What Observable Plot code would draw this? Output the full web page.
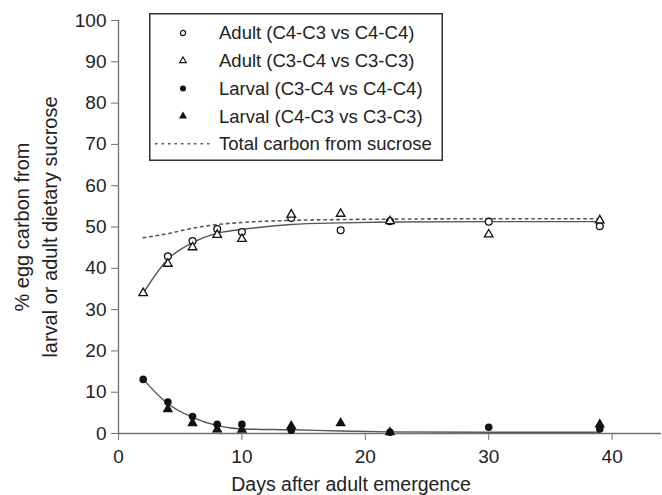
<!DOCTYPE html>
<html>
<head>
<meta charset="utf-8">
<script src="https://cdn.jsdelivr.net/npm/d3@7"></script>
<script src="https://cdn.jsdelivr.net/npm/@observablehq/plot@0.6"></script>
<style>
  body { margin: 0; background: #fff; }
  #wrap { position: relative; width: 662px; height: 495px; font-family: "Liberation Sans", Arial, sans-serif; }
  #legend { position: absolute; left: 149px; top: 13px; }
</style>
</head>
<body>
<div id="wrap"></div>
<script>
// ---- data ----
const days = [2, 4, 6, 8, 10, 14, 18, 22, 30, 39];
const adultC4C3 = [null, 42.9, 46.6, 49.5, 48.8, 52.2, 49.2, 51.4, 51.3, 50.2];   // open circles
const adultC3C4 = [34.0, 41.1, 45.1, 48.1, 47.1, 53.0, 53.2, 51.4, 48.2, 51.6];   // open triangles
const larvalC3C4 = [13.1, 7.6, 4.1, 2.2, 2.2, 0.8, null, 0.3, 1.5, 1.1];          // filled circles
const larvalC4C3 = [null, 5.9, 2.5, 1.0, 0.9, 1.8, 2.5, 0.3, null, 2.2];          // filled triangles
const adultFit = [34.0, 42.2, 46.2, 48.5, 49.4, 50.6, 51.0, 51.2, 51.3, 51.3];
const larvalFit = [13.1, 7.2, 3.9, 1.9, 1.1, 0.9, 0.6, 0.4, 0.3, 0.3];
const totalCarbon = [47.4, 48.4, 49.7, 50.6, 51.1, 51.6, 51.8, 51.9, 52.0, 52.0];
const xTicks = [0, 10, 20, 30, 40];
const yTicks = [0, 10, 20, 30, 40, 50, 60, 70, 80, 90, 100];
const xLabel = "Days after adult emergence";
const yLabel = "% egg carbon from\nlarval or adult dietary sucrose";
const legendLabels = [
  "Adult (C4-C3 vs C4-C4)",
  "Adult (C3-C4 vs C3-C3)",
  "Larval (C3-C4 vs C4-C4)",
  "Larval (C4-C3 vs C3-C3)",
  "Total carbon from sucrose"
];

const pts = (arr) => days.map((d, i) => ({x: d, y: arr[i]})).filter(p => p.y != null);

const axisColor = "#707070";
const chart = Plot.plot({
  width: 662,
  height: 495,
  marginLeft: 118,
  marginRight: 1,
  marginTop: 20,
  marginBottom: 62,
  style: {fontFamily: "'Liberation Sans', Arial, sans-serif", fontSize: "19px", color: "#222", background: "#fff"},
  x: {domain: [0, 44]},
  y: {domain: [0, 100]},
  marks: [
    Plot.axisX({ticks: xTicks, tickSize: 7, tickPadding: 9, stroke: axisColor, fill: "#222", fontSize: 19, label: null}),
    Plot.axisY({ticks: yTicks, tickSize: 7, tickPadding: 5, stroke: axisColor, fill: "#222", fontSize: 19, label: null}),
    Plot.ruleY([0], {stroke: axisColor, strokeWidth: 1.3}),
    Plot.ruleX([0], {stroke: axisColor, strokeWidth: 1.3}),
    Plot.line(pts(totalCarbon), {x: "x", y: "y", curve: "monotone-x", stroke: "#555", strokeWidth: 1.6, strokeDasharray: "2.5,4"}),
    Plot.line(pts(adultFit), {x: "x", y: "y", curve: "monotone-x", stroke: "#555", strokeWidth: 1.4}),
    Plot.line(pts(larvalFit), {x: "x", y: "y", curve: "monotone-x", stroke: "#555", strokeWidth: 1.4}),
    Plot.dot(pts(adultC4C3), {x: "x", y: "y", symbol: "circle", r: 3.4, stroke: "#111", strokeWidth: 1.3, fill: "white"}),
    Plot.dot(pts(adultC3C4), {x: "x", y: "y", symbol: "triangle", r: 3.2, stroke: "#111", strokeWidth: 1.3, fill: "white"}),
    Plot.dot(pts(larvalC3C4), {x: "x", y: "y", symbol: "circle", r: 3.8, fill: "#111", stroke: "none"}),
    Plot.dot(pts(larvalC4C3), {x: "x", y: "y", symbol: "triangle", r: 3.9, fill: "#111", stroke: "none"}),
    Plot.text([xLabel], {frameAnchor: "bottom", dx: -39, dy: 51, fontSize: 19.5, fill: "#222", lineAnchor: "middle", textAnchor: "middle"}),
    Plot.text([yLabel], {frameAnchor: "left", dx: -84, dy: 0, rotate: -90, fontSize: 20, fill: "#222", lineHeight: 1.4, lineAnchor: "middle", textAnchor: "middle"})
  ]
});
document.getElementById("wrap").appendChild(chart);

// ---- legend overlay ----
const lw = 294, lh = 148;
const leg = d3.select("#wrap").append("svg")
  .attr("id", "legend").attr("width", lw).attr("height", lh)
  .style("font-family", "'Liberation Sans', Arial, sans-serif");
leg.append("rect").attr("x", 0.75).attr("y", 0.75).attr("width", lw - 1.5).attr("height", lh - 1.5)
  .attr("fill", "white").attr("stroke", "#333").attr("stroke-width", 1.5);
const rowY = (i) => 20 + i * 27.7;
const symGen = (type, size) => d3.symbol().type(type).size(size)();
legendLabels.forEach((lab, i) => {
  const g = leg.append("g").attr("transform", `translate(0,${rowY(i)})`);
  if (i === 0) g.append("circle").attr("cx", 34).attr("cy", 0).attr("r", 2.6).attr("fill", "white").attr("stroke", "#111").attr("stroke-width", 1.2);
  if (i === 1) g.append("path").attr("d", symGen(d3.symbolTriangle, 18)).attr("transform", "translate(34,0)").attr("fill", "white").attr("stroke", "#111").attr("stroke-width", 1.2);
  if (i === 2) g.append("circle").attr("cx", 34).attr("cy", 0).attr("r", 3).attr("fill", "#111");
  if (i === 3) g.append("path").attr("d", symGen(d3.symbolTriangle, 28)).attr("transform", "translate(34,0)").attr("fill", "#111");
  if (i === 4) g.append("line").attr("x1", 6).attr("x2", 62).attr("y1", 0).attr("y2", 0).attr("stroke", "#555").attr("stroke-width", 1.4).attr("stroke-dasharray", "2.5,4");
  g.append("text").attr("x", 70).attr("y", 0).attr("dy", "0.35em").attr("font-size", 18.5).attr("fill", "#222").text(lab);
});
</script>
</body>
</html>
